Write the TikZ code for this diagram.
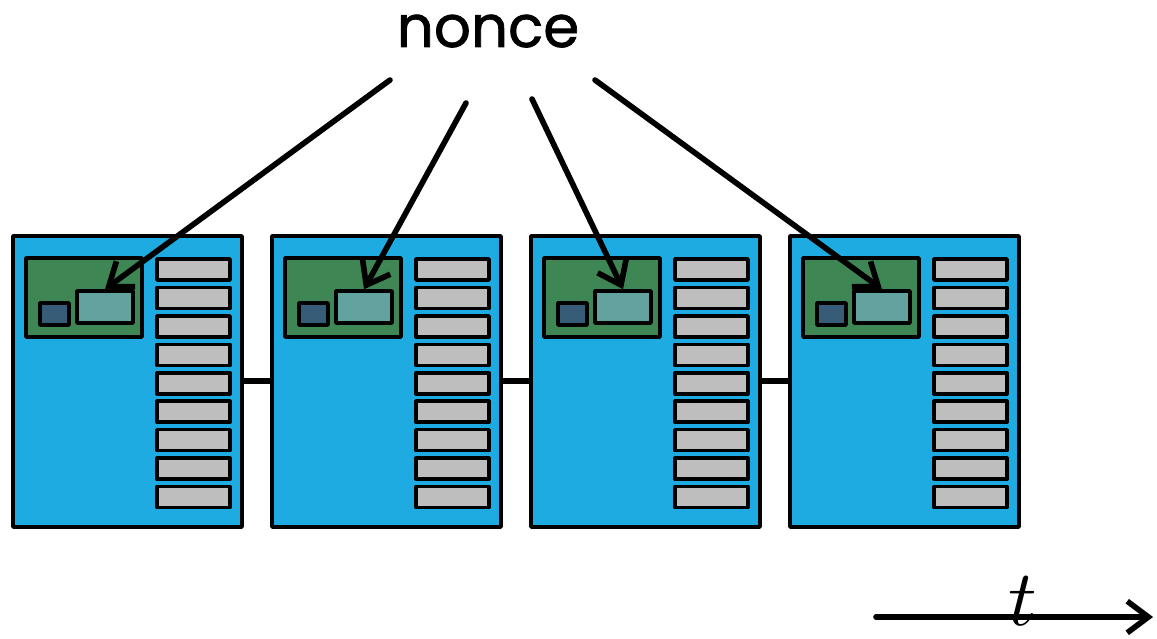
\documentclass[tikz,border=0pt]{standalone}
\usepackage{fontspec}
\newfontfamily\noncefont[FakeBold=1.2]{Poppins}
\usepackage{tikz}
\usetikzlibrary{arrows.meta}
\newcommand\W{259}

\definecolor{blockblue}{HTML}{1EABE2}
\definecolor{headgreen}{HTML}{3E8654}
\definecolor{noncecyan}{HTML}{62A39F}
\definecolor{hashblue}{HTML}{365C77}
\definecolor{txgray}{HTML}{BEBEBE}

\begin{document}
\begin{tikzpicture}[x=0.02cm,y=-0.02cm,line join=round,
                    >={Straight Barb[length=12pt,width=18pt]}]

  \tikzstyle{box}=[draw,rectangle,inner sep=0pt,line width=2pt]
  \tikzstyle{block}=[box,fill=blockblue,minimum width=4.58cm,minimum height=5.82cm]
  \tikzstyle{header}=[box,fill=headgreen,minimum width=2.32cm,minimum height=1.58cm]
  \tikzstyle{prev}=[box,fill=hashblue,minimum width=0.58cm,minimum height=0.44cm]
  \tikzstyle{nonceslot}=[box,fill=noncecyan,minimum width=1.12cm,minimum height=0.64cm]
  \tikzstyle{tx}=[box,fill=txgray,minimum width=1.46cm,minimum height=0.42cm]
  \tikzstyle{thick arrow}=[->,line width=3.2pt,line cap=round]

  \useasboundingbox (0,0) rectangle (1157,639);

  % chain links behind the blocks
  \foreach \i in {0,1,2}
    \draw[line width=3pt] (242+\i*\W,381) -- (272+\i*\W,381);

  % the four blocks
  \foreach \i in {1,2,3,4} {
    \node[block]     (B\i) at (127.5+\i*\W-\W,381.5) {};
    \node[header]    (H\i) at (84+\i*\W-\W,297.5)    {};
    \node[prev]      (P\i) at (54.5+\i*\W-\W,314)    {};
    \node[nonceslot] (N\i) at (105+\i*\W-\W,307)     {};
    \foreach \k in {0,...,8}
      \node[tx] (T\i-\k) at (193.5+\i*\W-\W,269.5+\k*28.45) {};
  }

  \node[anchor=base,inner sep=0pt] (nonce) at (488,47)
    {\noncefont\fontsize{33}{38}\selectfont nonce};
  \coordinate (n1) at (390,80);
  \coordinate (n2) at (466,103);
  \coordinate (n3) at (532,99);
  \coordinate (n4) at (595,80);

  \draw[thick arrow] (n1) -- (N1.north);
  \draw[thick arrow] (n2) -- (N2.north);
  \draw[thick arrow] (n3) -- (N3.north);
  \draw[thick arrow] (n4) -- (N4.north);

  % time axis
  \coordinate (t0) at (876,617);
  \coordinate (t1) at (1153,617);
  \draw[thick arrow] (t0) -- (t1);
  \node[anchor=base,inner sep=0pt,scale=4.5] (time) at (1023,625) {$t$};
\end{tikzpicture}
\end{document}
